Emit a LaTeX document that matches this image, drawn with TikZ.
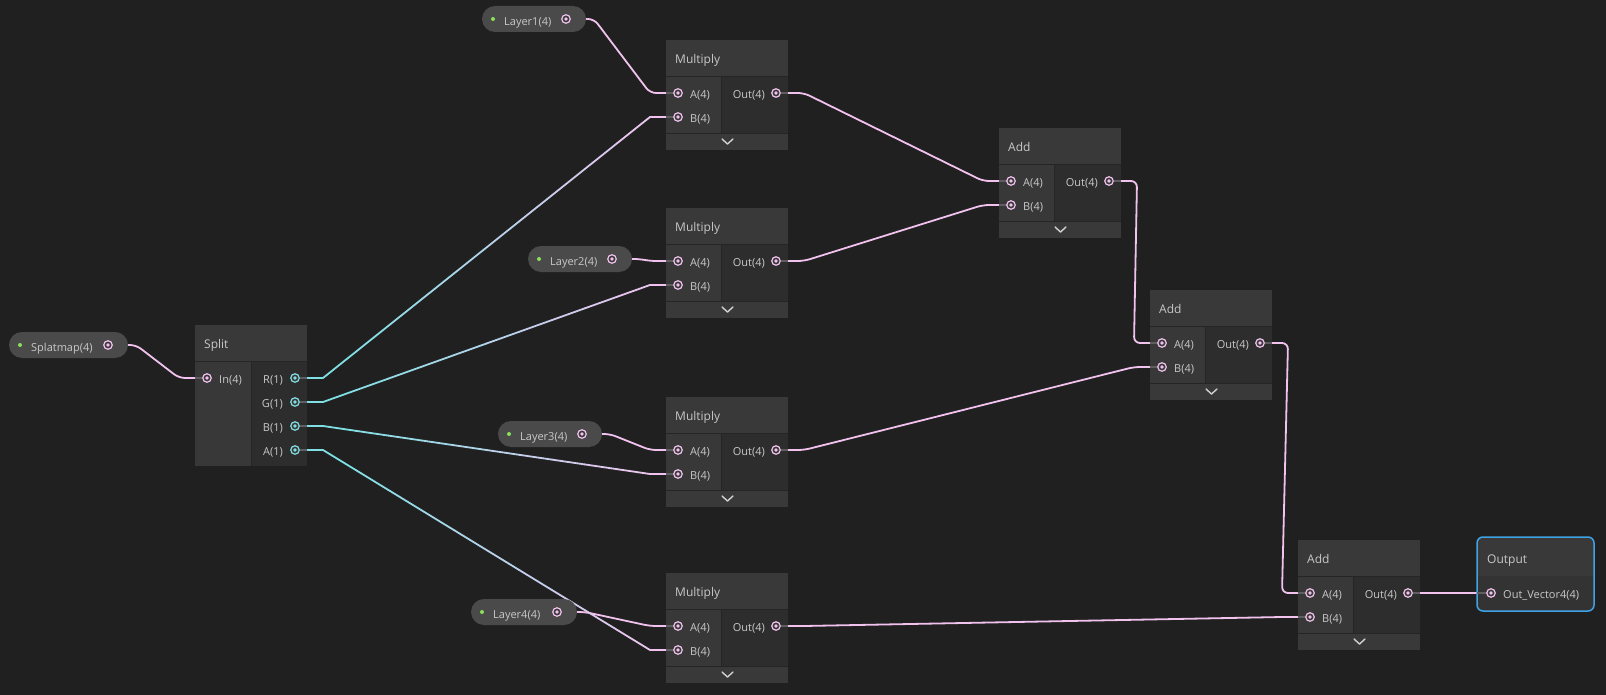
\documentclass[tikz,border=0pt]{standalone}
\usepackage{fontspec}
\setmainfont{Open Sans}
\usetikzlibrary{calc}

\pgfdeclarelayer{bg}
\pgfdeclarelayer{wires}
\pgfsetlayers{bg,wires,main}

\definecolor{canvas}{HTML}{202020}
\definecolor{headfill}{HTML}{393939}
\definecolor{infill}{HTML}{383838}
\definecolor{outfill}{HTML}{2D2D2D}
\definecolor{sepfill}{HTML}{252525}
\definecolor{pillfill}{HTML}{4A4A4A}
\definecolor{labelgrey}{HTML}{C8C8C8}
\definecolor{wirepink}{HTML}{F2C2EE}
\definecolor{wirecyan}{HTML}{7FE0E4}
\definecolor{portdark}{HTML}{3A3A3A}
\definecolor{stubgrey}{HTML}{5E5E5E}
\definecolor{dotgreen}{HTML}{8BE05A}
\definecolor{chevgrey}{HTML}{D0D0D0}
\definecolor{outblue}{HTML}{3FA3E6}
\definecolor{outbody}{HTML}{333333}

% plain wire, port to port
\newcommand{\pinkwire}[2]{%
  \draw[wire, wirepink] (#1) -- ++(28,0) -- ($(#2)+(-28,0)$) -- (#2);}
% wire from a cyan port into a pink one
\newcommand{\gradwire}[2]{%
  \coordinate (ws) at ($(#1)+(28,0)$);
  \coordinate (we) at ($(#2)+(-28,0)$);
  \draw[wire, wirecyan] (#1) -- (ws);
  \draw[wire, wirepink] (we) -- (#2);
  \foreach \i [evaluate=\i as \pct using int(100-10*\i),
               evaluate=\i as \j using \i+1] in {0,...,9}
    \draw[wire, wirecyan!\pct!wirepink] ($(ws)!\i/10!(we)$) -- ($(ws)!\j/10!(we)$);}

\begin{document}
\begin{tikzpicture}[x=1pt, y=-1pt,
    title/.style={anchor=mid west, text=labelgrey, inner sep=0pt, font=\fontsize{12}{14}\selectfont},
    plabel/.style={text=labelgrey, inner sep=0pt, font=\fontsize{11}{13}\selectfont},
    port/.style={circle, draw=#1, fill=portdark, line width=1.2pt, minimum size=8.5pt, inner sep=0pt,
      path picture={\fill[#1] (path picture bounding box.center) circle (1.9pt);}},
    port/.default=wirepink,
    stub/.style={stubgrey, line width=1.6pt},
    pill/.style={fill=pillfill, rounded corners=13pt, minimum height=26pt, inner sep=0pt},
    wire/.style={line width=1.8pt, rounded corners=6pt, line cap=round},
    chev/.style={chevgrey, line width=1.4pt, line cap=round, line join=round}]

    \useasboundingbox (0,0) rectangle (1606,695);
    \begin{pgfonlayer}{bg}
      \fill[canvas] (0,0) rectangle (1606,695);
    \end{pgfonlayer}

    % Property pills
    \foreach \n/\x/\xx/\y/\t in {splat/9/128/345/Splatmap(4), l1/482/586/19/Layer1(4),
        l2/528/632/259/Layer2(4), l3/498/602/434/Layer3(4), l4/471/577/612/Layer4(4)} {
      \node[pill, minimum width=\xx-\x] (\n p) at ({(\x+\xx)/2},\y) {};
      \fill[dotgreen] (\x+11,\y) circle (2pt);
      \node[plabel, anchor=mid west] (\n t) at (\x+22,\y+3.5) {\t};
      \node[port] (\n) at (\xx-20,\y) {};
    }

    % Split
    \fill[sepfill] (195,325) rectangle (307,466);
    \fill[headfill] (195,325) rectangle (307,361);
    \fill[infill] (195,362) rectangle (251,466);
    \fill[outfill] (252,362) rectangle (307,466);
    \node[title] (splitt) at (204,346) {Split};
    \node[port] (sin) at (207,378) {};
    \draw[stub] (195,378) -- (sin.west);
    \node[plabel, anchor=mid west] (sinl) at (219,381) {In(4)};
    \foreach \n/\y/\t in {sr/378/R(1), sg/402/G(1), sb/426/B(1), sa/450/A(1)} {
      \node[port=wirecyan] (\n) at (295,\y) {};
      \draw[stub] (\n.east) -- (307,\y);
      \node[plabel, anchor=mid east] (\n l) at (283,\y+3) {\t};
    }

    % Multiply and Add nodes
    \foreach \n/\x/\y/\t in {m1/666/40/Multiply, m2/666/208/Multiply, m3/666/397/Multiply,
        m4/666/573/Multiply, a1/999/128/Add, a2/1150/290/Add, a3/1298/540/Add} {
      \fill[sepfill] (\x,\y) rectangle (\x+122,\y+110);
      \fill[headfill] (\x,\y) rectangle (\x+122,\y+36);
      \fill[infill] (\x,\y+37) rectangle (\x+55,\y+93);
      \fill[outfill] (\x+56,\y+37) rectangle (\x+122,\y+93);
      \fill[headfill] (\x,\y+94) rectangle (\x+122,\y+110);
      \node[title] (\n t) at (\x+9,\y+21) {\t};
      \node[port] (\n a) at (\x+12,\y+53) {};
      \node[port] (\n b) at (\x+12,\y+77) {};
      \node[port] (\n o) at (\x+110,\y+53) {};
      \draw[stub] (\x,\y+53) -- (\n a.west);
      \draw[stub] (\x,\y+77) -- (\n b.west);
      \draw[stub] (\n o.east) -- (\x+122,\y+53);
      \node[plabel, anchor=mid west] (\n al) at (\x+24,\y+56) {A(4)};
      \node[plabel, anchor=mid west] (\n bl) at (\x+24,\y+80) {B(4)};
      \node[plabel, anchor=mid east] (\n ol) at (\x+99,\y+56) {Out(4)};
      \draw[chev] (\x+56,\y+99) -- (\x+61.5,\y+104) -- (\x+67,\y+99);
    }

    % Output
    \begin{scope}
      \clip[rounded corners=6pt] (1477,537) rectangle (1594,611);
      \fill[outbody] (1477,537) rectangle (1594,611);
      \fill[headfill] (1477,537) rectangle (1594,576);
    \end{scope}
    \draw[outblue, line width=1.5pt, rounded corners=6pt] (1477,537) rectangle (1594,611);
    \node[title] (outt) at (1487,561) {Output};
    \node[port] (outv) at (1491,593) {};
    \draw[stub] (1477,593) -- (outv.west);
    \node[plabel, anchor=mid west] (outl) at (1503,596) {Out\_Vector4(4)};

    % Wires
    \begin{pgfonlayer}{wires}
      \pinkwire{splat}{sin}
      \pinkwire{l1}{m1a}
      \pinkwire{l2}{m2a}
      \pinkwire{l3}{m3a}
      \pinkwire{l4}{m4a}
      \gradwire{sr}{m1b}
      \gradwire{sg}{m2b}
      \gradwire{sb}{m3b}
      \gradwire{sa}{m4b}
      \pinkwire{m1o}{a1a}
      \pinkwire{m2o}{a1b}
      \pinkwire{a1o}{a2a}
      \pinkwire{m3o}{a2b}
      \pinkwire{a2o}{a3a}
      \pinkwire{m4o}{a3b}
      \pinkwire{a3o}{outv}
    \end{pgfonlayer}
\end{tikzpicture}
\end{document}
